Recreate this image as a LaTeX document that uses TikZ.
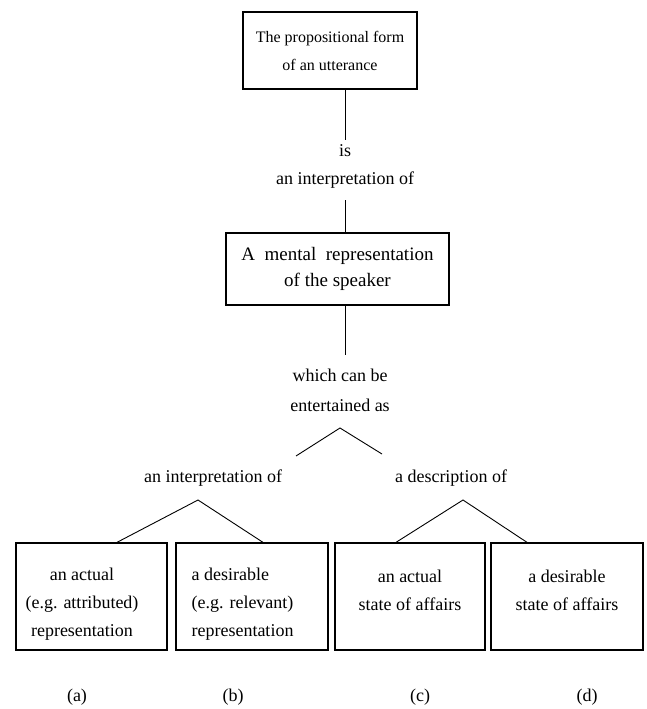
\documentclass[tikz,border=0pt]{standalone}
\usepackage{fontspec}
\setmainfont{Liberation Serif}
\usetikzlibrary{positioning}

\begin{document}
\begin{tikzpicture}[x=1pt, y=-1pt,
    box/.style={draw, line width=1.3pt, inner sep=0pt},
    txt/.style={align=center, font=\fontsize{18}{28}\selectfont},
    link/.style={line width=0.9pt}]
    \useasboundingbox (0,0) rectangle (647,709);

    % Upper boxes
    \node[box, txt, font=\fontsize{16}{28}\selectfont, minimum width=174pt, minimum height=77pt] (form) at (330,50.5) {The propositional form\\of an utterance};
    \node[txt] (is) at (345,166) {is\\an interpretation of};
    \node[box, txt, font=\fontsize{19}{26}\selectfont, minimum width=223pt, minimum height=72pt] (mental) at (337.5,269) {A \ mental \ representation\\of the speaker};
    \node[txt, font=\fontsize{18}{30}\selectfont] (which) at (340,390) {which can be\\entertained as};

    % Middle labels
    \node[txt] (interp) at (213,478) {an interpretation of};
    \node[txt] (desc) at (451,478) {a description of};

    % Lower boxes
    \node[box, minimum width=151pt, minimum height=107pt] (a) at (91.5,596.5) {};
    \node[box, minimum width=152pt, minimum height=107pt] (b) at (252,596.5) {};
    \node[box, minimum width=150pt, minimum height=107pt] (c) at (410,596.5) {};
    \node[box, minimum width=152pt, minimum height=107pt] (d) at (567,596.5) {};

    \node[txt] (atxt) at (82,604) {an actual\\(e.g. attributed)\\representation};
    \node[txt, align=left, anchor=west] (btxt) at (188,604) {a desirable\\(e.g. relevant)\\representation};
    \node[txt] (ctxt) at (410,590) {an actual\\state of affairs};
    \node[txt] (dtxt) at (567,590) {a desirable\\state of affairs};

    \node[txt] (la) at (77,697) {(a)};
    \node[txt] (lb) at (233,697) {(b)};
    \node[txt] (lc) at (420,697) {(c)};
    \node[txt] (ld) at (587,697) {(d)};

    % Connections
    \coordinate (is0) at (345,140);
    \coordinate (m0) at (345,200);
    \coordinate (w0) at (345,355);
    \draw[link] (form.south -| is0) -- (is0);
    \draw[link] (m0) -- (m0 |- mental.north);
    \draw[link] (mental.south -| w0) -- (w0);

    \coordinate (f0) at (340,428);
    \coordinate (f1) at (296,456);
    \coordinate (f2) at (382,454);
    \draw[link] (f1) -- (f0) -- (f2);

    \coordinate (fa) at (198,500);
    \coordinate (fc) at (463,500);
    \draw[link] ([xshift=25.5pt]a.north) -- (fa) -- ([xshift=11pt]b.north);
    \draw[link] ([xshift=-14pt]c.north) -- (fc) -- ([xshift=-40pt]d.north);
\end{tikzpicture}
\end{document}
